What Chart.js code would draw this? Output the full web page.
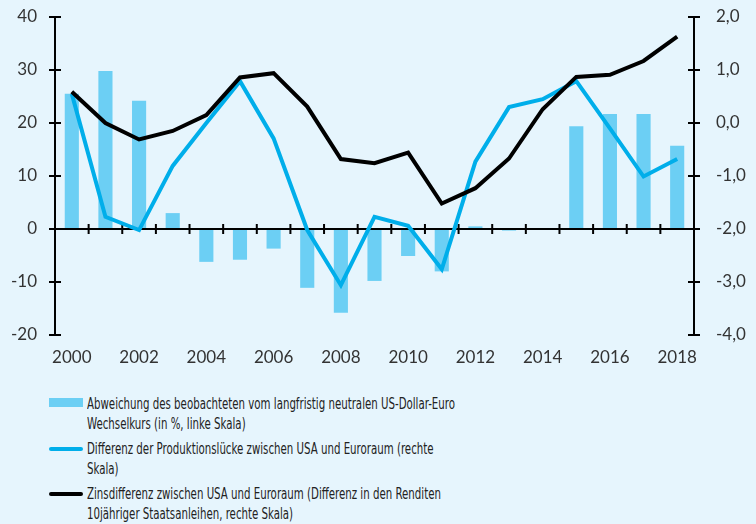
<!DOCTYPE html>
<html lang="de">
<head>
  <meta charset="UTF-8" />
  <title>Wechselkurs, Produktionslücke und Zinsdifferenz</title>
  <script src="https://cdn.jsdelivr.net/npm/chart.js"></script>
  <style>
    html, body { margin: 0; padding: 0; background: #e6f5fd; }
    #wrap { position: relative; width: 756px; height: 524px; background: #e6f5fd; overflow: hidden; }
    #box { position: absolute; left: 0; top: 0; width: 756px; height: 380px; }
    .item { position: absolute; left: 87px; font-family: "Liberation Sans Narrow", "DejaVu Sans Condensed", sans-serif;
            font-size: 16px; line-height: 20px; color: #222; white-space: nowrap;
            transform: scaleX(0.71); transform-origin: 0 0; }
    .sw { position: absolute; left: 49px; width: 34px; }
  </style>
</head>
<body>
  <div id="wrap">
    <div id="box"><canvas id="chart"></canvas></div>

    <div class="sw" style="top:398px;height:9px;background:#6ccff4"></div>
    <div class="item" style="top:394px">Abweichung des beobachteten vom langfristig neutralen US-Dollar-Euro<br>Wechselkurs (in %, linke Skala)</div>

    <div class="sw" style="top:447px;height:4px;border-radius:2px;background:#00aeea"></div>
    <div class="item" style="top:439px">Differenz der Produktionslücke zwischen USA und Euroraum (rechte<br>Skala)</div>

    <div class="sw" style="top:492px;height:4px;border-radius:2px;background:#000"></div>
    <div class="item" style="top:484px">Zinsdifferenz zwischen USA und Euroraum (Differenz in den Renditen<br>10jähriger Staatsanleihen, rechte Skala)</div>
  </div>

  <script>
    const years = ['2000','2001','2002','2003','2004','2005','2006','2007','2008','2009',
                   '2010','2011','2012','2013','2014','2015','2016','2017','2018'];
    // Abweichung Wechselkurs (in %, linke Skala)
    const abweichung = [25.5, 29.8, 24.2, 3.0, -6.2, -5.8, -3.7, -11.1, -15.8, -9.8,
                        -5.1, -8.0, 0.5, -0.3, 0, 19.4, 21.7, 21.7, 15.7];
    // Differenz der Produktionslücke (rechte Skala)
    const produktionsluecke = [0.55, -1.77, -2.02, -0.81, 0.0, 0.79, -0.29, -2.02, -3.06, -1.77,
                               -1.94, -2.76, -0.73, 0.30, 0.45, 0.79, -0.1, -1.01, -0.68];
    // Zinsdifferenz 10j. Staatsanleihen (rechte Skala)
    const zinsdifferenz = [0.59, 0.0, -0.31, -0.15, 0.15, 0.86, 0.94, 0.31, -0.68, -0.76,
                           -0.56, -1.52, -1.23, -0.67, 0.26, 0.87, 0.91, 1.17, 1.63];

    const tickFont = { family: 'Lato, "Noto Sans", sans-serif', size: 17 };

    // Achsenlinien und Striche, die die Achse kreuzen
    const axisPlugin = {
      id: 'axes',
      afterDatasetDraw(chart, args) {
        if (args.index !== 0) return;
        const ctx = chart.ctx;
        const { left, right, top, bottom } = chart.chartArea;
        const x = chart.scales.x, y = chart.scales.y, yR = chart.scales.yR;
        ctx.save();
        ctx.strokeStyle = '#000';
        ctx.lineWidth = 2;
        ctx.beginPath();
        ctx.moveTo(left, top); ctx.lineTo(left, bottom);
        ctx.moveTo(right, top); ctx.lineTo(right, bottom);
        const y0 = y.getPixelForValue(0);
        ctx.moveTo(left, y0); ctx.lineTo(right, y0);
        y.ticks.forEach(t => {
          const p = y.getPixelForValue(t.value);
          ctx.moveTo(left - 6, p); ctx.lineTo(left + 6, p);
        });
        yR.ticks.forEach(t => {
          const p = yR.getPixelForValue(t.value);
          ctx.moveTo(right - 6, p); ctx.lineTo(right + 6, p);
        });
        for (let i = 1; i < years.length; i++) {
          const p = (x.getPixelForValue(i - 1) + x.getPixelForValue(i)) / 2;
          ctx.moveTo(p, y0 - 5); ctx.lineTo(p, y0 + 5);
        }
        ctx.stroke();
        ctx.restore();
      }
    };

    const fitY = w => s => { s.width = w; s.paddingTop = 0; s.paddingBottom = 0; };

    new Chart(document.getElementById('chart'), {
      type: 'bar',
      data: {
        labels: years,
        datasets: [
          {
            type: 'bar',
            label: 'Abweichung Wechselkurs',
            data: abweichung,
            backgroundColor: '#6ccff4',
            categoryPercentage: 1,
            barPercentage: 0.42,
            yAxisID: 'y',
            order: 3
          },
          {
            type: 'line',
            label: 'Differenz der Produktionslücke',
            data: produktionsluecke,
            borderColor: '#00aeea',
            borderWidth: 4,
            pointRadius: 0,
            tension: 0,
            fill: false,
            yAxisID: 'yR',
            order: 2
          },
          {
            type: 'line',
            label: 'Zinsdifferenz',
            data: zinsdifferenz,
            borderColor: '#000',
            borderWidth: 4,
            pointRadius: 0,
            tension: 0,
            fill: false,
            yAxisID: 'yR',
            order: 1
          }
        ]
      },
      options: {
        responsive: true,
        maintainAspectRatio: false,
        animation: false,
        layout: { padding: { top: 17, left: 0, right: 0, bottom: 0 } },
        plugins: { legend: { display: false }, tooltip: { enabled: false } },
        scales: {
          x: {
            grid: { display: false },
            border: { display: false },
            ticks: {
              color: '#333', font: tickFont, maxRotation: 0, autoSkip: false, padding: 4,
              callback: (v, i) => (i % 2 === 0 ? years[i] : '')
            },
            afterFit: s => { s.height = 45; s.paddingLeft = 0; s.paddingRight = 0; }
          },
          y: {
            position: 'left',
            min: -20, max: 40,
            grid: { display: false },
            border: { display: false },
            ticks: { stepSize: 10, color: '#333', font: tickFont, padding: 10 },
            afterFit: fitY(55)
          },
          yR: {
            position: 'right',
            min: -4, max: 2,
            grid: { display: false },
            border: { display: false },
            ticks: {
              stepSize: 1, color: '#333', font: tickFont, padding: 14,
              callback: v => v.toFixed(1).replace('.', ',')
            },
            afterFit: fitY(62)
          }
        }
      },
      plugins: [axisPlugin]
    });
  </script>
</body>
</html>
